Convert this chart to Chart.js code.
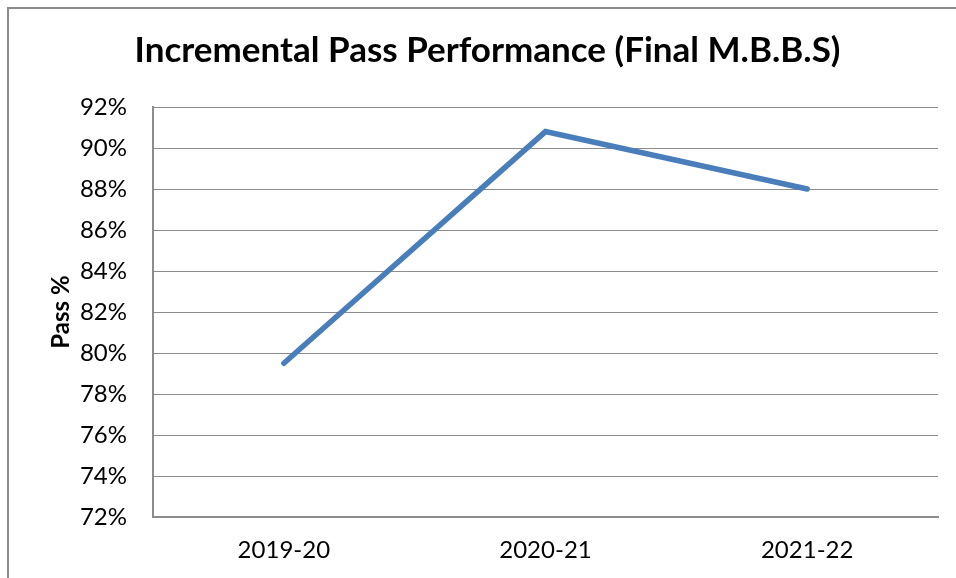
<!DOCTYPE html>
<html>
<head>
<meta charset="utf-8">
<script src="https://cdn.jsdelivr.net/npm/chart.js@4"></script>
<style>
  body { margin: 0; background: #fff; }
</style>
</head>
<body>
<canvas id="passChart" width="956" height="578"></canvas>
<script>
const years = ["2019-20", "2020-21", "2021-22"];
const passPct = [79.5, 90.8, 88.0];
const yTicks = [72, 74, 76, 78, 80, 82, 84, 86, 88, 90, 92];

// outer frame of the chart, runs off the right and bottom edges
const frame = {
  id: 'frame',
  beforeDraw(chart) {
    const c = chart.ctx;
    c.save();
    c.fillStyle = '#fff';
    c.fillRect(0, 0, chart.width, chart.height);
    c.strokeStyle = '#8c8c8c';
    c.lineWidth = 2;
    c.strokeRect(8, 8, 1000, 1000);
    c.restore();
  }
};

new Chart(document.getElementById("passChart").getContext('2d'), {
  type: 'line',
  data: {
    labels: years,
    datasets: [{
      label: "Pass %",
      data: passPct,
      borderColor: "#4a7ebb",
      borderWidth: 5.5,
      borderCapStyle: 'round',
      borderJoinStyle: 'miter',
      pointRadius: 0,
      tension: 0,
      fill: false
    }]
  },
  options: {
    responsive: false,
    animation: false,
    layout: { padding: { left: 37, right: 18, top: 16, bottom: 0 } },
    plugins: {
      legend: { display: false },
      tooltip: { enabled: false },
      title: {
        display: true,
        text: 'Incremental Pass Performance (Final M.B.B.S)',
        color: '#000',
        font: { family: 'Lato', size: 35, weight: 'bold' },
        padding: { top: 14, bottom: 35 }
      }
    },
    scales: {
      x: {
        offset: true,
        grid: { display: false, drawTicks: false },
        border: { color: '#8c8c8c', width: 2 },
        afterFit: (s) => { s.height = 61; },
        ticks: {
          color: '#000',
          padding: 19,
          font: { family: 'Lato', size: 24 }
        }
      },
      y: {
        min: 72,
        max: 92,
        afterBuildTicks: (s) => { s.ticks = yTicks.map(v => ({ value: v })); },
        afterFit: (s) => { s.width = 116; },
        grid: { color: '#8c8c8c', lineWidth: 1, drawTicks: false },
        border: { color: '#8c8c8c', width: 2 },
        title: {
          display: true,
          text: 'Pass %',
          color: '#000',
          font: { family: 'Lato', size: 24, weight: 'bold' },
          padding: { top: 10, bottom: 0 }
        },
        ticks: {
          color: '#000',
          padding: 26,
          font: { family: 'Lato', size: 24 },
          callback: (v) => v + '%'
        }
      }
    }
  },
  plugins: [frame]
});
</script>
</body>
</html>
